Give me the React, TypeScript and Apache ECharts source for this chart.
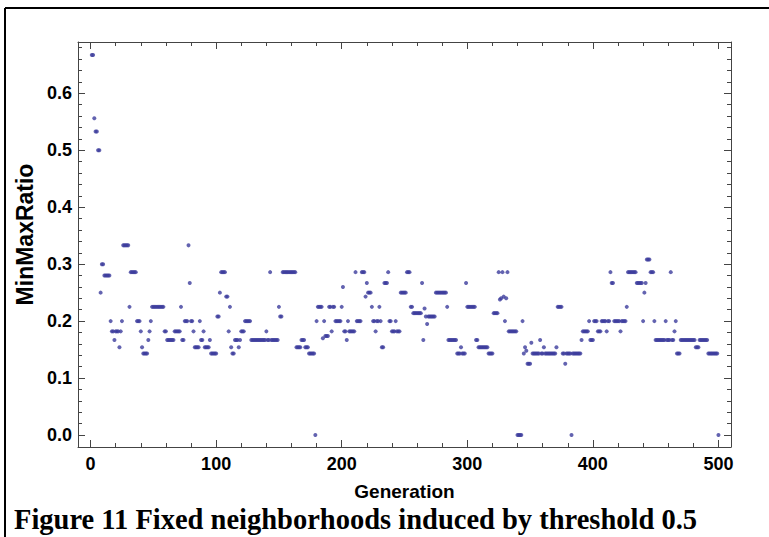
import React, { useEffect, useRef } from "react";
import * as echarts from "echarts";

// MinMaxRatio for generations 1..500
const ratio: number[] = [
  0.667, 0.667, 0.556, 0.533, 0.533, 0.5, 0.5, 0.25, 0.3, 0.3,
  0.28, 0.28, 0.28, 0.28, 0.28, 0.2, 0.182, 0.182, 0.167, 0.182,
  0.182, 0.182, 0.154, 0.182, 0.2, 0.333, 0.333, 0.333, 0.333, 0.333,
  0.225, 0.286, 0.286, 0.286, 0.286, 0.286, 0.2, 0.2, 0.2, 0.182,
  0.154, 0.143, 0.143, 0.143, 0.143, 0.167, 0.182, 0.2, 0.225, 0.225,
  0.225, 0.225, 0.225, 0.225, 0.225, 0.225, 0.225, 0.225, 0.182, 0.182,
  0.167, 0.167, 0.167, 0.167, 0.167, 0.167, 0.182, 0.182, 0.182, 0.182,
  0.182, 0.225, 0.167, 0.167, 0.2, 0.2, 0.2, 0.333, 0.267, 0.2,
  0.2, 0.182, 0.154, 0.154, 0.154, 0.154, 0.2, 0.167, 0.167, 0.182,
  0.154, 0.154, 0.154, 0.154, 0.167, 0.143, 0.143, 0.143, 0.143, 0.143,
  0.208, 0.208, 0.25, 0.286, 0.286, 0.286, 0.286, 0.243, 0.243, 0.182,
  0.225, 0.154, 0.143, 0.143, 0.167, 0.167, 0.167, 0.154, 0.167, 0.182,
  0.182, 0.182, 0.2, 0.2, 0.2, 0.2, 0.2, 0.167, 0.167, 0.167,
  0.167, 0.167, 0.167, 0.167, 0.167, 0.167, 0.167, 0.167, 0.167, 0.182,
  0.167, 0.167, 0.286, 0.167, 0.167, 0.167, 0.167, 0.167, 0.167, 0.225,
  0.208, 0.208, 0.286, 0.286, 0.286, 0.286, 0.286, 0.286, 0.286, 0.286,
  0.286, 0.286, 0.286, 0.154, 0.154, 0.154, 0.154, 0.167, 0.167, 0.167,
  0.154, 0.154, 0.154, 0.143, 0.143, 0.143, 0.143, 0.143, 0, 0.2,
  0.225, 0.225, 0.225, 0.225, 0.17, 0.2, 0.174, 0.174, 0.174, 0.225,
  0.225, 0.182, 0.225, 0.225, 0.2, 0.2, 0.2, 0.2, 0.2, 0.225,
  0.26, 0.182, 0.182, 0.167, 0.2, 0.182, 0.182, 0.182, 0.182, 0.182,
  0.286, 0.2, 0.2, 0.2, 0.2, 0.286, 0.286, 0.286, 0.243, 0.267,
  0.25, 0.25, 0.25, 0.225, 0.2, 0.2, 0.182, 0.2, 0.2, 0.225,
  0.2, 0.154, 0.154, 0.267, 0.267, 0.267, 0.286, 0.2, 0.2, 0.182,
  0.182, 0.182, 0.2, 0.182, 0.182, 0.182, 0.25, 0.25, 0.25, 0.25,
  0.25, 0.286, 0.286, 0.286, 0.225, 0.225, 0.214, 0.214, 0.214, 0.214,
  0.214, 0.214, 0.214, 0.267, 0.167, 0.222, 0.208, 0.195, 0.208, 0.208,
  0.208, 0.208, 0.208, 0.208, 0.25, 0.25, 0.25, 0.25, 0.25, 0.25,
  0.25, 0.25, 0.25, 0.225, 0.167, 0.167, 0.167, 0.167, 0.167, 0.167,
  0.167, 0.143, 0.143, 0.143, 0.154, 0.143, 0.143, 0.143, 0.267, 0.225,
  0.225, 0.225, 0.225, 0.225, 0.225, 0.225, 0.167, 0.167, 0.154, 0.154,
  0.154, 0.154, 0.154, 0.154, 0.154, 0.154, 0.143, 0.143, 0.143, 0.143,
  0.214, 0.214, 0.214, 0.214, 0.286, 0.238, 0.24, 0.286, 0.243, 0.2,
  0.24, 0.286, 0.182, 0.182, 0.182, 0.182, 0.182, 0.182, 0.182, 0,
  0, 0, 0, 0.2, 0.143, 0.154, 0.148, 0.125, 0.125, 0.125,
  0.162, 0.143, 0.143, 0.143, 0.143, 0.143, 0.143, 0.167, 0.143, 0.143,
  0.154, 0.143, 0.143, 0.143, 0.143, 0.143, 0.143, 0.143, 0.143, 0.143,
  0.154, 0.225, 0.225, 0.225, 0.225, 0.143, 0.143, 0.125, 0.143, 0.143,
  0.143, 0.143, 0, 0.143, 0.143, 0.143, 0.143, 0.143, 0.143, 0.143,
  0.167, 0.182, 0.182, 0.182, 0.182, 0.182, 0.2, 0.167, 0.167, 0.167,
  0.2, 0.2, 0.2, 0.182, 0.182, 0.182, 0.2, 0.2, 0.2, 0.2,
  0.182, 0.2, 0.2, 0.286, 0.267, 0.267, 0.2, 0.2, 0.2, 0.2,
  0.2, 0.182, 0.2, 0.2, 0.2, 0.2, 0.225, 0.286, 0.286, 0.286,
  0.286, 0.286, 0.286, 0.286, 0.267, 0.267, 0.267, 0.267, 0.267, 0.2,
  0.25, 0.267, 0.308, 0.308, 0.308, 0.286, 0.286, 0.286, 0.2, 0.167,
  0.167, 0.167, 0.167, 0.167, 0.167, 0.167, 0.167, 0.2, 0.167, 0.167,
  0.167, 0.286, 0.167, 0.167, 0.182, 0.2, 0.143, 0.143, 0.143, 0.167,
  0.167, 0.167, 0.167, 0.167, 0.167, 0.167, 0.167, 0.167, 0.167, 0.167,
  0.167, 0.154, 0.154, 0.154, 0.167, 0.167, 0.167, 0.167, 0.167, 0.167,
  0.167, 0.143, 0.143, 0.143, 0.143, 0.143, 0.143, 0.143, 0.143, 0,
];

const xMajorTicks = [0, 100, 200, 300, 400, 500];
const xMinorTicks = [20, 40, 60, 80, 120, 140, 160, 180, 220, 240, 260, 280, 320, 340, 360, 380, 420, 440, 460, 480];
const yMajorTicks = [0, 0.1, 0.2, 0.3, 0.4, 0.5, 0.6];
const yMinorTicks = [0.02, 0.04, 0.06, 0.08, 0.12, 0.14, 0.16, 0.18, 0.22, 0.24, 0.26, 0.28, 0.32, 0.34, 0.36, 0.38, 0.42, 0.44, 0.46, 0.48, 0.52, 0.54, 0.56, 0.58, 0.62, 0.64, 0.66, 0.68];

const xTitle = "Generation";
const yTitle = "MinMaxRatio";
const caption = "Figure 11 Fixed neighborhoods induced by threshold 0.5";

const X_MIN = -10;
const X_MAX = 510;
const Y_MIN = -0.021;
const Y_MAX = 0.69;

const AXIS_COLOR = "#444";
const POINT_COLOR = "#3c3c9c";
const SANS = "'Liberation Sans', Arial, sans-serif";
const SERIF = "'Liberation Serif', 'Times New Roman', serif";

export default function App() {
  const ref = useRef<HTMLDivElement>(null);

  useEffect(() => {
    if (!ref.current) return;
    const chart = echarts.init(ref.current, undefined, { renderer: "svg" });

    const labelStyle = { fontFamily: SANS, fontWeight: "bold" as const, fontSize: 18, color: "#000" };

    const xAxisBase = (position: "bottom" | "top", major: boolean, labels: boolean, line: boolean) => ({
      type: "value" as const,
      position,
      min: X_MIN,
      max: X_MAX,
      splitLine: { show: false },
      axisLine: { show: line, onZero: false, lineStyle: { color: AXIS_COLOR, width: 1 } },
      axisTick: {
        show: true,
        inside: true,
        length: major ? 7 : 4,
        customValues: major ? xMajorTicks : xMinorTicks,
        lineStyle: { color: AXIS_COLOR, width: 1 },
      },
      axisLabel: labels
        ? { show: true, customValues: xMajorTicks, margin: 8, ...labelStyle }
        : { show: false },
    });

    const yAxisBase = (position: "left" | "right", major: boolean, labels: boolean, line: boolean) => ({
      type: "value" as const,
      position,
      min: Y_MIN,
      max: Y_MAX,
      splitLine: { show: false },
      axisLine: { show: line, onZero: false, lineStyle: { color: AXIS_COLOR, width: 1 } },
      axisTick: {
        show: true,
        inside: true,
        length: major ? 7 : 4,
        customValues: major ? yMajorTicks : yMinorTicks,
        lineStyle: { color: AXIS_COLOR, width: 1 },
      },
      axisLabel: labels
        ? {
            show: true,
            customValues: yMajorTicks,
            margin: 6,
            formatter: (v: number) => v.toFixed(1),
            ...labelStyle,
          }
        : { show: false },
    });

    const xMain: any = xAxisBase("bottom", true, true, true);
    xMain.name = xTitle;
    xMain.nameLocation = "middle";
    xMain.nameGap = 35;
    xMain.nameTextStyle = { fontFamily: SANS, fontWeight: "bold", fontSize: 19, color: "#000" };

    const yMain: any = yAxisBase("left", true, true, true);
    yMain.name = yTitle;
    yMain.nameLocation = "middle";
    yMain.nameGap = 42;
    yMain.nameTextStyle = {
      fontFamily: SANS,
      fontWeight: "bold",
      fontSize: 23,
      color: "#000",
      padding: [0, 0, 0, 20],
    };

    chart.setOption({
      animation: false,
      backgroundColor: "#fff",
      grid: { left: 78, top: 42, width: 653, height: 405, containLabel: false },
      xAxis: [
        xMain,
        xAxisBase("bottom", false, false, false),
        xAxisBase("top", true, false, true),
        xAxisBase("top", false, false, false),
      ],
      yAxis: [
        yMain,
        yAxisBase("left", false, false, false),
        yAxisBase("right", true, false, true),
        yAxisBase("right", false, false, false),
      ],
      series: [
        {
          type: "scatter",
          xAxisIndex: 0,
          yAxisIndex: 0,
          symbol: "circle",
          symbolSize: 4,
          itemStyle: { color: POINT_COLOR },
          data: ratio.map((v, i) => [i + 1, v]),
        },
      ],
      graphic: [
        { type: "line", shape: { x1: 5, y1: 8, x2: 769, y2: 8 }, style: { stroke: "#000", lineWidth: 2 } },
        { type: "line", shape: { x1: 5, y1: 8, x2: 5, y2: 537 }, style: { stroke: "#000", lineWidth: 2 } },
        {
          type: "text",
          left: 14,
          top: 505,
          style: { text: caption, font: `bold 28.5px ${SERIF}`, fill: "#000" },
        },
      ],
    });

    return () => chart.dispose();
  }, []);

  return (
    <div
      ref={ref}
      style={{ position: "fixed", left: 0, top: 0, width: 769, height: 537, background: "#fff" }}
    />
  );
}
